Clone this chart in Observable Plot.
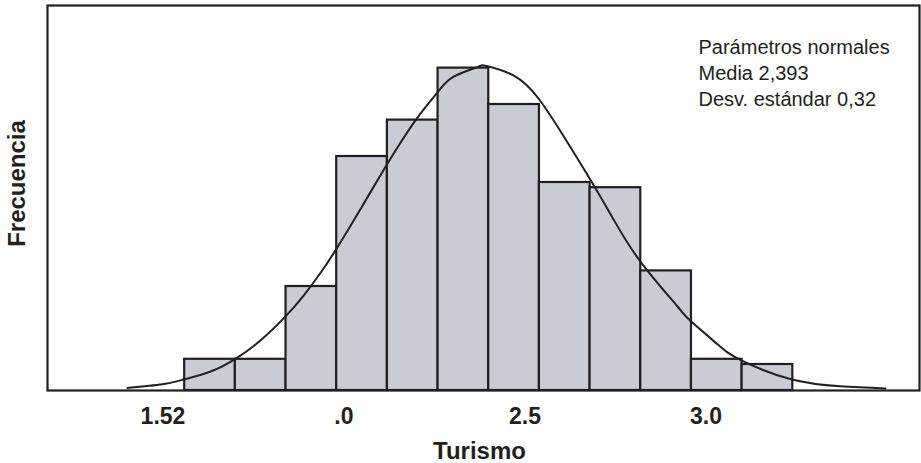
<!DOCTYPE html>
<html>
<head>
<meta charset="utf-8">
<script src="https://cdn.jsdelivr.net/npm/d3@7"></script>
<script src="https://cdn.jsdelivr.net/npm/@observablehq/plot@0.6"></script>
<style>
  html, body { margin: 0; padding: 0; background: #fff; }
  svg { display: block; }
</style>
</head>
<body>
<div id="chart"></div>
<script>
// Histogram bins (Turismo) and frequencies
const binStart = [1.56, 1.70, 1.84, 1.98, 2.12, 2.26, 2.40, 2.54, 2.68, 2.82, 2.96, 3.10];
const binEnd   = [1.70, 1.84, 1.98, 2.12, 2.26, 2.40, 2.54, 2.68, 2.82, 2.96, 3.10, 3.24];
const freq     = [6, 6, 20, 45, 52, 62, 55, 40, 39, 23, 6, 5];

// Fitted normal curve
const curveX = [1.402, 1.499, 1.557, 1.630, 1.700, 1.769, 1.838, 1.888, 1.935, 1.977, 2.050, 2.120, 2.198, 2.258, 2.302, 2.369, 2.394, 2.468, 2.537, 2.606, 2.675, 2.744, 2.819, 2.921, 2.957, 3.030, 3.095, 3.233, 3.371, 3.496];
const curveY = [0.5, 1.2, 2.1, 3.6, 6.1, 9.6, 14.2, 18.2, 22.6, 27.0, 35.4, 43.6, 52.0, 57.3, 60.3, 62.2, 62.4, 60.6, 56.2, 49.0, 41.2, 33.0, 24.8, 16.2, 13.4, 9.0, 5.9, 2.2, 0.8, 0.4];

// Tick values and their printed labels
const tickValues = [1.5, 2.0, 2.5, 3.0];
const tickLabels = ["1.52", ".0", "2.5", "3.0"];

const legendLines = ["Parámetros normales", "Media 2,393", "Desv. estándar 0,32"];

const bins = binStart.map((s, i) => ({x1: s, x2: binEnd[i], y: freq[i]}));
const curve = curveX.map((x, i) => ({x, y: curveY[i]}));
const labelMap = new Map(tickValues.map((v, i) => [v, tickLabels[i]]));

const ink = "#231f20";

const chart = Plot.plot({
  width: 921,
  height: 463,
  marginLeft: 47,
  marginRight: 2,
  marginTop: 5,
  marginBottom: 73,
  style: {background: "#fff", fontFamily: "'Liberation Sans', Arial, sans-serif", color: ink},
  x: {domain: [1.181, 3.590]},
  y: {domain: [0, 74.04], axis: null},
  marks: [
    Plot.rectY(bins, {x1: "x1", x2: "x2", y: "y", fill: "#c9ccd5", stroke: ink, strokeWidth: 2.2}),
    Plot.line(curve, {x: "x", y: "y", stroke: ink, strokeWidth: 2, curve: "natural"}),
    Plot.frame({stroke: ink, strokeWidth: 2.2}),
    Plot.axisX({
      ticks: tickValues,
      tickFormat: d => labelMap.get(d),
      tickSize: 0,
      tickPadding: 17,
      fontSize: 23,
      fontWeight: "bold",
      fill: ink,
      label: null
    }),
    Plot.text(["Turismo"], {frameAnchor: "bottom", dx: -4, dy: 61, lineAnchor: "middle", fontSize: 24, fontWeight: "bold", fill: ink}),
    Plot.text(["Frecuencia"], {frameAnchor: "left", dx: -30.5, dy: -14.5, rotate: -90, lineAnchor: "middle", textAnchor: "middle", fontSize: 24, fontWeight: "bold", fill: ink}),
    Plot.text([legendLines.join("\n")], {frameAnchor: "top-left", dx: 651, dy: 30, lineAnchor: "top", textAnchor: "start", lineHeight: 1.3, fontSize: 20, fill: ink})
  ]
});

document.getElementById("chart").appendChild(chart);
</script>
</body>
</html>
